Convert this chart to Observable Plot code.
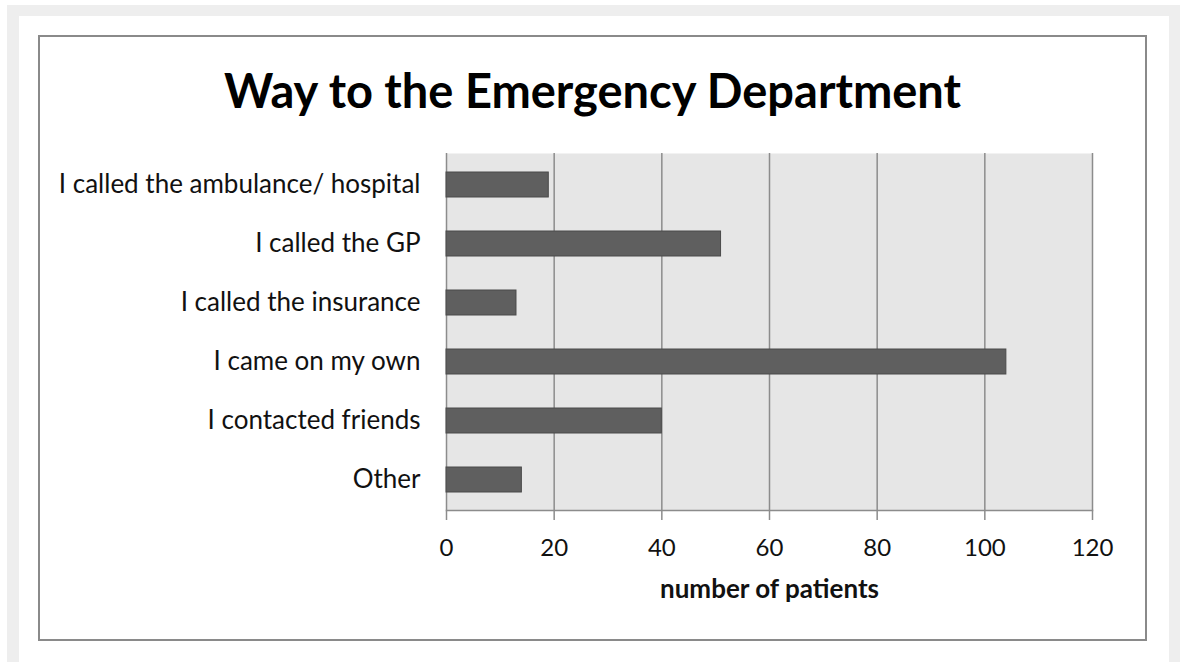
<!DOCTYPE html>
<html>
<head>
<meta charset="utf-8">
<script src="https://cdn.jsdelivr.net/npm/d3@7"></script>
<script src="https://cdn.jsdelivr.net/npm/@observablehq/plot@0.6"></script>
<style>
  html, body { margin: 0; padding: 0; background: #fff; width: 1187px; height: 662px; overflow: hidden; }
  #outer { position: absolute; left: 7px; top: 5px; width: 1173px; height: 700px; background: #eeeeee; }
  #inner { position: absolute; left: 19px; top: 16px; width: 1150px; height: 700px; background: #fff; }
  #box { position: absolute; left: 38px; top: 35px; width: 1105px; height: 602px; border: 2px solid #8a8a8a; background: #fff; }
  #title { position: absolute; left: 0; top: 25px; width: 1105px; text-align: center; line-height: 56px;
           font-family: Lato, sans-serif; font-weight: bold; font-size: 47px; color: #000; }
  #chart { position: absolute; left: 0; top: 93px; }
</style>
</head>
<body>
<div id="outer"></div>
<div id="inner"></div>
<div id="box">
  <div id="title">Way to the Emergency Department</div>
  <div id="chart"></div>
</div>
<script>
// Survey answers: how patients came to the emergency department
const categories = [
  "I called the ambulance/ hospital",
  "I called the GP",
  "I called the insurance",
  "I came on my own",
  "I contacted friends",
  "Other"
];
const patients = [19, 51, 13, 104, 40, 14];
const xTicks = [0, 20, 40, 60, 80, 100, 120];
const xLabel = "number of patients";

const rows = categories.map((c, i) => ({category: c, value: patients[i]}));

const plot = Plot.plot({
  width: 1105,
  height: 509,
  marginLeft: 406,
  marginRight: 53,
  marginTop: 23,
  marginBottom: 129,
  style: {fontFamily: "Lato, sans-serif", color: "#111", background: "transparent"},
  x: {domain: [0, 120], ticks: xTicks},
  y: {domain: categories, paddingInner: 0.58, paddingOuter: 0.29, align: 0.5},
  marks: [
    Plot.frame({fill: "#e6e6e6", stroke: null}),
    Plot.ruleX(xTicks, {stroke: "#8c8c8c", strokeWidth: 1.5}),
    Plot.frame({anchor: "bottom", stroke: "#8c8c8c", strokeWidth: 1.5}),
    Plot.barX(rows, {x: "value", y: "category", fill: "#5f5f5f", stroke: "#4a4a4a", strokeWidth: 1}),
    Plot.axisY({tickSize: 0, tickPadding: 26, fontSize: 26, label: null}),
    Plot.axisX({ticks: xTicks, tickSize: 10, tickPadding: 18, fontSize: 24, stroke: "#8c8c8c", strokeWidth: 1.5, label: null}),
    Plot.text([xLabel], {frameAnchor: "bottom", dy: 87, fontWeight: "bold", fontSize: 26, fill: "#111"})
  ]
});
document.getElementById("chart").appendChild(plot);
</script>
</body>
</html>
